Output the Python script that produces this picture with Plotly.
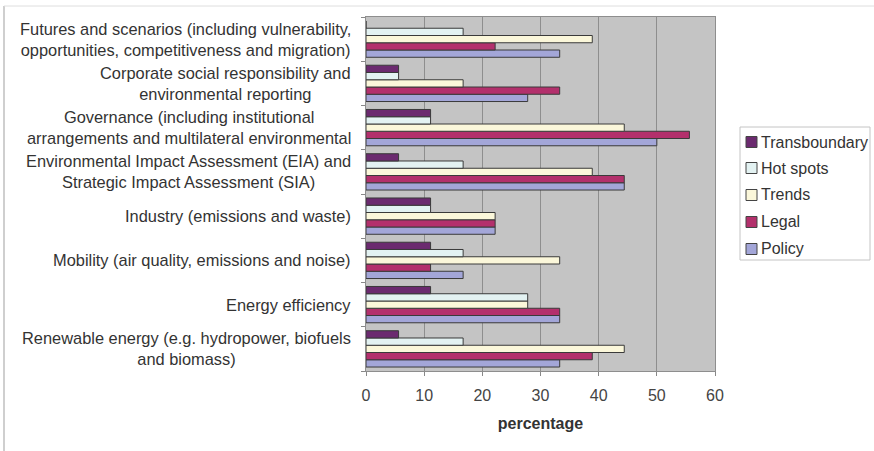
import plotly.graph_objects as go

categories = [
    "Renewable energy (e.g. hydropower, biofuels<br>and biomass)",
    "Energy efficiency",
    "Mobility (air quality, emissions and noise)",
    "Industry (emissions and waste)",
    "Environmental Impact Assessment (EIA) and<br>Strategic Impact Assessment (SIA)",
    "Governance (including institutional<br>arrangements and multilateral environmental",
    "Corporate social responsibility and<br>environmental reporting",
    "Futures and scenarios (including vulnerability,<br>opportunities, competitiveness and migration)",
]

policy = [33.3, 33.3, 16.7, 22.2, 44.4, 50.0, 27.8, 33.3]
legal = [38.9, 33.3, 11.1, 22.2, 44.4, 55.6, 33.3, 22.2]
trends = [44.4, 27.8, 33.3, 22.2, 38.9, 44.4, 16.7, 38.9]
hot_spots = [16.7, 27.8, 16.7, 11.1, 16.7, 11.1, 5.6, 16.7]
transboundary = [5.6, 11.1, 11.1, 11.1, 5.6, 11.1, 5.6, 0.0]

series_names = ["Policy", "Legal", "Trends", "Hot spots", "Transboundary"]
series_values = [policy, legal, trends, hot_spots, transboundary]
series_colors = ["#A3A6D8", "#B3306C", "#FBF7DA", "#E3F2F2", "#6B2A6F"]

x_ticks = [0, 10, 20, 30, 40, 50, 60]

FONT = "Liberation Sans, Arial, sans-serif"

# pixel geometry of the plot area
L, R, T, B = 366, 715, 17, 371
W, H = 874, 451


def px(x):
    return (x - L) / (R - L)


def py(y):
    return (B - y) / (B - T)


fig = go.Figure()
for name, vals, col in zip(series_names, series_values, series_colors):
    fig.add_trace(go.Bar(
        y=categories, x=vals, name=name, orientation="h",
        marker=dict(color=col, line=dict(color="#3a3a3a", width=1)),
        showlegend=False,
    ))

for cat in categories:
    fig.add_annotation(
        x=px(353), xref="paper", y=cat, yref="y", text=cat,
        showarrow=False, xanchor="right", align="center",
        font=dict(family=FONT, size=16.4, color="#333333"),
    )

# legend (drawn manually, top entry = Transboundary)
fig.add_shape(type="rect", xref="paper", yref="paper",
              x0=px(740), x1=px(870), y0=py(260), y1=py(127),
              line=dict(color="#c4c4c4", width=1), fillcolor="white", layer="below")
legend_y = [249, 222, 195, 168, 142]  # Policy .. Transboundary
for name, col, yy in zip(series_names, series_colors, legend_y):
    fig.add_shape(type="rect", xref="paper", yref="paper",
                  x0=px(746), x1=px(757), y0=py(yy + 5.5), y1=py(yy - 5.5),
                  line=dict(color="#444444", width=1), fillcolor=col)
    fig.add_annotation(x=px(759), xref="paper", y=py(yy), yref="paper", text=name,
                       showarrow=False, xanchor="left", yanchor="middle",
                       font=dict(family=FONT, size=16, color="#333333"))

# frame lines of the picture
fig.add_shape(type="line", xref="paper", yref="paper", x0=px(4), x1=px(4),
              y0=py(451), y1=py(6), line=dict(color="#cfcfcf", width=2))
fig.add_shape(type="line", xref="paper", yref="paper", x0=px(4), x1=px(874),
              y0=py(6), y1=py(6), line=dict(color="#dedede", width=1))

fig.update_layout(
    width=W, height=H,
    margin=dict(l=L, r=W - R, t=T, b=H - B, autoexpand=False),
    paper_bgcolor="white",
    plot_bgcolor="#C4C4C4",
    barmode="group",
    bargap=0.18,
    bargroupgap=0,
    font=dict(family=FONT, size=16, color="#333333"),
    showlegend=False,
    xaxis=dict(
        range=[0, 60], tickvals=x_ticks, ticks="outside", ticklen=4,
        tickcolor="#888888", showgrid=True, gridcolor="#8E8E8E", gridwidth=1,
        showline=True, linecolor="#8E8E8E", mirror=True, zeroline=False,
        tickfont=dict(size=16, color="#444444"), ticklabelstandoff=6,
        title=dict(text="<b>percentage</b>", font=dict(size=16, color="#333333"), standoff=14),
    ),
    yaxis=dict(
        showticklabels=False, ticks="outside", tickson="boundaries", ticklen=4,
        tickcolor="#888888", showline=True, linecolor="#8E8E8E", mirror=True,
        showgrid=False,
    ),
)

fig.write_html("out.html", config={"displayModeBar": False},
               post_script="document.body.style.margin='0';")
